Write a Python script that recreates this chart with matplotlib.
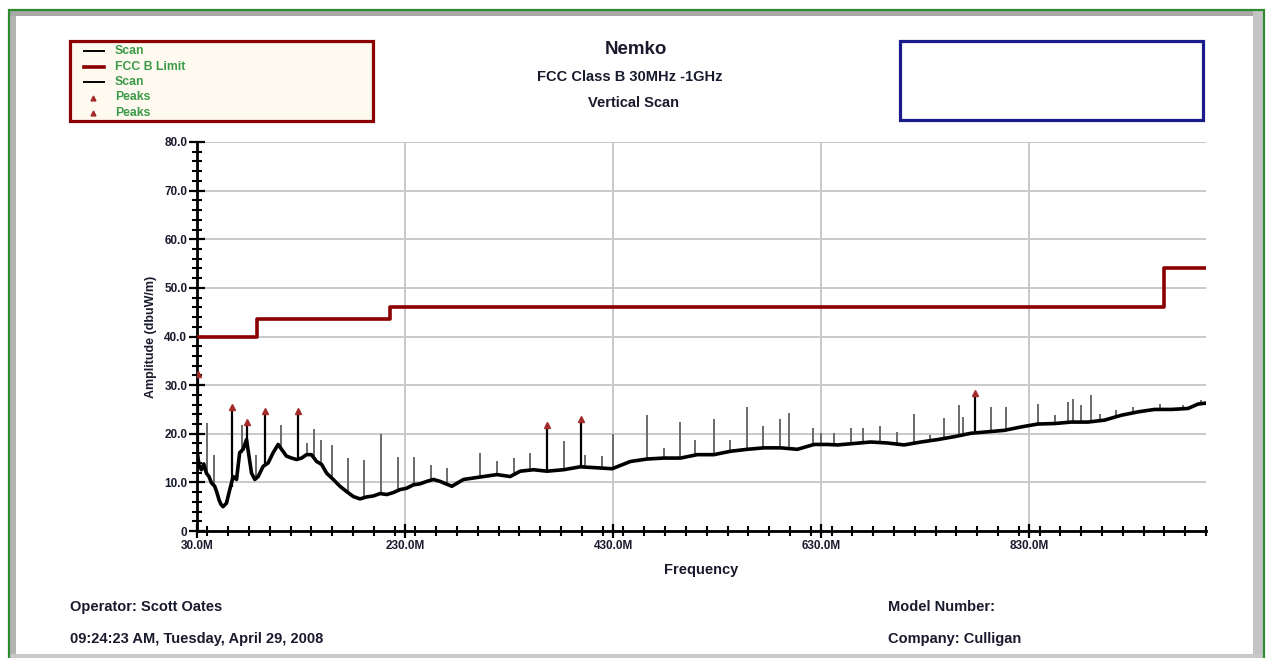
import numpy as np
import matplotlib.pyplot as plt
from matplotlib.patches import Rectangle
from matplotlib.lines import Line2D
from matplotlib.ticker import MultipleLocator, FixedLocator

plt.rcParams['font.family'] = ['Liberation Sans', 'DejaVu Sans']
plt.rcParams['font.weight'] = 'bold'

# --- data -------------------------------------------------------------
# baseline of the scan trace (MHz, dBuV/m)
scan_freq = [30, 32, 34.2, 36.5, 39, 41.5, 43.9, 47, 49, 51.2,
             53, 55, 58.3, 61.5, 64.7, 68, 71, 74.3, 77.6, 79,
             82.4, 85.6, 88.8, 93.6, 98.4, 103.2, 108, 111.3, 116, 121,
             125.7, 130.6, 135.3, 140, 145, 149.8, 154.6, 161, 167.4, 173.9,
             180.2, 186.7, 193, 199.5, 206, 212.4, 218.7, 225, 231.6, 238,
             244.4, 250.9, 257.3, 263.7, 275, 286.2, 295.8, 305.4, 318.3, 331.1,
             340.7, 353.5, 366.4, 382.4, 398.5, 414.6, 429, 446.7, 462.7, 478.7,
             494.8, 510.9, 526.9, 543, 559, 575, 591, 607.2, 623.2, 636,
             645.7, 661.7, 677.7, 693.8, 709.8, 725.9, 742, 758, 774, 790.1,
             806.1, 822.2, 838.3, 854.3, 870.3, 886.4, 902.4, 918.5, 934.6, 950.6,
             966.6, 982.7, 992.3, 1000]
scan_amp = [16.5, 13.5, 12.6, 13.8, 11.9, 11.2, 9.9, 9.2, 8.0, 6.4,
            5.5, 5.0, 5.7, 8.5, 11.2, 10.6, 16.1, 16.8, 18.8, 16.8,
            11.9, 10.6, 11.2, 13.3, 14.0, 16.1, 17.8, 16.8, 15.4, 15.0,
            14.7, 15.0, 15.7, 15.7, 14.3, 13.7, 11.9, 10.6, 9.2, 8.1,
            7.1, 6.6, 7.0, 7.2, 7.7, 7.5, 7.9, 8.5, 8.8, 9.5,
            9.7, 10.2, 10.6, 10.2, 9.2, 10.6, 10.9, 11.2, 11.6, 11.2,
            12.3, 12.6, 12.3, 12.6, 13.2, 13.0, 12.8, 14.3, 14.8, 15.0,
            15.0, 15.7, 15.7, 16.4, 16.8, 17.1, 17.1, 16.8, 17.8, 17.8,
            17.7, 18.0, 18.3, 18.1, 17.7, 18.3, 18.8, 19.4, 20.1, 20.4,
            20.7, 21.4, 22.0, 22.1, 22.4, 22.4, 22.8, 23.8, 24.5, 25.0,
            25.0, 25.2, 26.1, 26.3]

# narrow emissions sticking out of the trace
spike_freq = [39.6, 46.4, 73.3, 87.2, 110.6, 135.3, 142.7, 149.1, 159.4, 174.8,
              190.8, 206.9, 223.0, 238.7, 254.7, 270.0, 302.2, 318.3, 334.3, 350.4,
              382.4, 403.3, 419.4, 430.0, 462.7, 478.7, 494.1, 509.2, 526.9, 542.3,
              558.4, 574.4, 590.4, 599.1, 622.6, 629.6, 642.4, 658.5, 670.7, 686.7,
              702.8, 718.9, 734.9, 748.4, 762.8, 766.5, 793.3, 807.8, 838.9, 855.0,
              867.8, 872.6, 880.0, 889.6, 897.7, 913.3, 930.0, 955.4, 977.9, 995.5]
spike_top = [22.3, 15.7, 21.7, 15.7, 21.7, 18.2, 20.9, 18.8, 17.6, 15.0,
             14.6, 19.9, 15.3, 15.3, 13.5, 13.0, 16.1, 14.3, 15.0, 16.1,
             18.5, 15.7, 15.5, 19.9, 23.8, 17.1, 22.4, 18.8, 23.1, 18.7,
             25.4, 21.6, 23.1, 24.2, 21.1, 20.2, 20.2, 21.2, 21.1, 21.6,
             20.4, 24.0, 19.7, 23.3, 25.9, 23.5, 25.4, 25.4, 26.2, 23.8,
             26.5, 27.2, 25.9, 27.9, 24.0, 24.8, 25.5, 26.2, 26.0, 27.0]
spike_base = [12.0, 9.5, 16.0, 11.0, 16.5, 15.5, 15.3, 13.7, 11.0, 8.0,
              6.8, 7.7, 8.3, 9.5, 10.6, 9.8, 11.0, 11.6, 11.5, 12.4,
              12.6, 13.1, 13.0, 12.9, 14.8, 15.0, 15.0, 15.6, 15.7, 16.4,
              16.8, 17.1, 17.1, 17.0, 17.8, 17.5, 17.6, 18.0, 18.2, 18.2,
              17.9, 18.0, 18.6, 19.0, 19.6, 19.8, 20.5, 20.8, 22.0, 22.1,
              22.3, 22.4, 22.4, 22.5, 22.7, 23.5, 24.3, 25.0, 25.1, 26.2]

# marked peaks
peak_freq = [30.5, 63.4, 77.9, 95.5, 127.0, 366.4, 399.2, 778.2]
peak_amp = [32.2, 25.4, 22.5, 24.7, 24.7, 21.9, 23.0, 28.3]
peak_base = [15.0, 9.0, 17.0, 13.5, 14.8, 12.3, 13.2, 20.2]

# FCC class B limit (step, held to the right)
limit_freq = [30, 88, 216, 960, 1000]
limit_amp = [40, 43.5, 46, 54, 54]

x_major = [30, 230, 430, 630, 830]
x_labels = ['30.0M', '230.0M', '430.0M', '630.0M', '830.0M']
y_major = [0, 10, 20, 30, 40, 50, 60, 70, 80]
y_labels = ['0', '10.0', '20.0', '30.0', '40.0', '50.0', '60.0', '70.0', '80.0']

# --- page --------------------------------------------------------------
W, H = 1268, 658
fig = plt.figure(figsize=(W / 100, H / 100), dpi=100)


def fx(x):
    return x / W


def fy(y):
    return 1 - y / H


def box(x0, y0, x1, y1, **kw):
    r = Rectangle((fx(x0), fy(y1)), fx(x1) - fx(x0), fy(y0) - fy(y1),
                  transform=fig.transFigure, **kw)
    fig.add_artist(r)


# bevelled green frame of the report page
box(10, 11, 16, 658, facecolor='#b4b4b4', edgecolor='none')
box(10, 11, 1263, 16, facecolor='#a8a8a8', edgecolor='none')
box(1253, 11, 1263, 658, facecolor='#c4c4c4', edgecolor='none')
box(10, 654, 1263, 660, facecolor='#c8c8c8', edgecolor='none')
box(9, 10, 1264, 680, facecolor='none', edgecolor='#2e8b2e', linewidth=1.6)

# legend box
box(70, 41, 373, 121, facecolor='#fffaf0', edgecolor='#8b0000', linewidth=2.3)
leg_green = '#3a9a48'
entries = [('Scan', 'line', 'black', 1.4), ('FCC B Limit', 'line', '#8b0000', 2.6),
           ('Scan', 'line', 'black', 1.4), ('Peaks', 'marker', '#a52a2a', 0),
           ('Peaks', 'marker', '#a52a2a', 0)]
for i, (lab, kind, col, lw) in enumerate(entries):
    yy = 51 + i * 15.5
    if kind == 'line':
        fig.add_artist(Line2D([fx(84), fx(104)], [fy(yy), fy(yy)], color=col,
                              linewidth=lw, transform=fig.transFigure))
    else:
        fig.add_artist(Line2D([fx(93)], [fy(yy)], marker='^', markersize=3.5,
                              color=col, linestyle='none', transform=fig.transFigure))
    fig.text(fx(115), fy(yy), lab, color=leg_green, fontsize=8.8, fontweight='bold',
             va='center', ha='left')

# empty info box on the right
box(900, 41, 1203, 120, facecolor='white', edgecolor='#1a1a8a', linewidth=2.3)

# titles
txt = '#1a1a2e'
fig.text(fx(636), fy(49), 'Nemko', fontsize=13.5, fontweight='bold', color=txt,
         ha='center', va='center')
fig.text(fx(630), fy(77), 'FCC Class B 30MHz -1GHz', fontsize=10.5, fontweight='bold',
         color=txt, ha='center', va='center')
fig.text(fx(634), fy(103), 'Vertical Scan', fontsize=10.5, fontweight='bold',
         color=txt, ha='center', va='center')

# footer
fig.text(fx(70), fy(607), 'Operator: Scott Oates', fontsize=10.5, fontweight='bold',
         color=txt, ha='left', va='center')
fig.text(fx(70), fy(639), '09:24:23 AM, Tuesday, April 29, 2008', fontsize=10.5,
         fontweight='bold', color=txt, ha='left', va='center')
fig.text(fx(888), fy(607), 'Model Number:', fontsize=10.5, fontweight='bold',
         color=txt, ha='left', va='center')
fig.text(fx(888), fy(639), 'Company: Culligan', fontsize=10.5, fontweight='bold',
         color=txt, ha='left', va='center')

# --- the plot ----------------------------------------------------------
ax = fig.add_axes([fx(197), fy(531), (1206 - 197) / W, (531 - 142) / H])
ax.set_xlim(30, 1000)
ax.set_ylim(0, 80)

ax.step(limit_freq, limit_amp, where='post', color='#8b0000', linewidth=2.6, zorder=4)
ax.vlines(spike_freq, spike_base, spike_top, color='#6a6a6a', linewidth=1.4, zorder=3)
ax.vlines(peak_freq, peak_base, peak_amp, color='black', linewidth=1.6, zorder=3)
ax.plot(scan_freq, scan_amp, color='black', linewidth=2.6, zorder=3)
ax.plot(peak_freq, peak_amp, linestyle='none', marker='^', markersize=4,
        color='#a52a2a', zorder=5)

ax.xaxis.set_major_locator(FixedLocator(x_major))
ax.set_xticklabels(x_labels)
ax.xaxis.set_minor_locator(MultipleLocator(20))
ax.yaxis.set_major_locator(FixedLocator(y_major))
ax.set_yticklabels(y_labels)
ax.yaxis.set_minor_locator(MultipleLocator(2))

ax.grid(True, which='major', color='#c8c8c8', linewidth=1.4, zorder=0)
ax.set_axisbelow(True)
for s in ['top', 'right']:
    ax.spines[s].set_visible(False)
for s in ['left', 'bottom']:
    ax.spines[s].set_linewidth(2)
    ax.spines[s].set_color('black')

ax.tick_params(axis='y', which='major', direction='inout', length=11, width=1.6,
               pad=1.5, labelsize=8.5, labelcolor=txt)
ax.tick_params(axis='y', which='minor', direction='inout', length=7, width=1.5)
ax.tick_params(axis='x', which='major', direction='inout', length=10, width=1.6,
               pad=1.5, labelsize=8.5, labelcolor=txt)
ax.tick_params(axis='x', which='minor', direction='inout', length=7, width=1.5)
for lab in ax.get_xticklabels() + ax.get_yticklabels():
    lab.set_fontweight('bold')

ax.set_xlabel('Frequency', fontsize=10.5, fontweight='bold', color=txt, labelpad=8)
ax.set_ylabel('Amplitude (dbuW/m)', fontsize=9, fontweight='bold', color=txt, labelpad=5)

fig.savefig('out.png', dpi=100)
